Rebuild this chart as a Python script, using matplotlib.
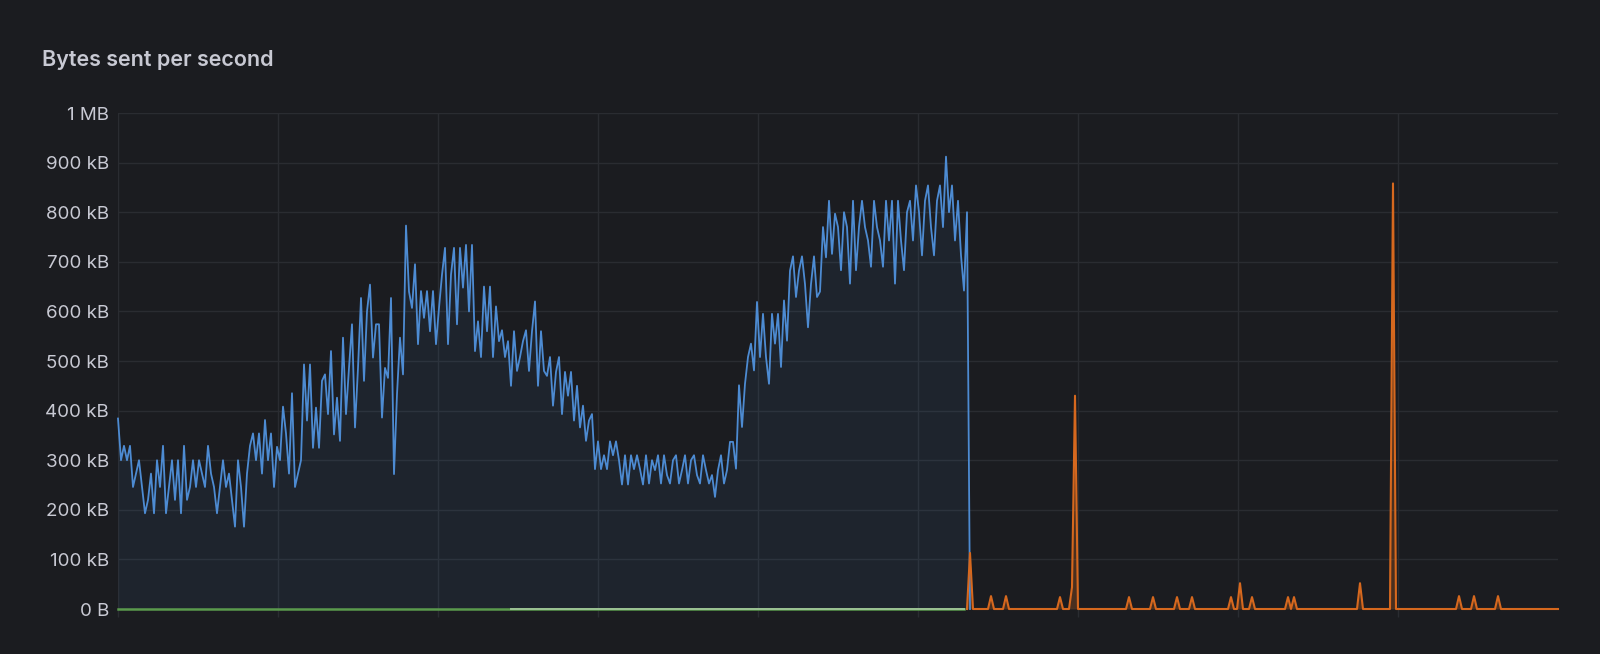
import numpy as np
import matplotlib
matplotlib.use("Agg")
import matplotlib.pyplot as plt

# ---------------- data (kB/s) ----------------
# blue series: one sample per step, steps 0..284
sent_blue = [
    384, 300, 329, 300, 329, 246, 273, 300, 246, 193,
    220, 273, 193, 300, 246, 329, 193, 246, 300, 220,
    300, 193, 329, 220, 246, 300, 246, 300, 273, 246,
    329, 273, 246, 193, 246, 300, 246, 273, 220, 166,
    300, 246, 166, 273, 329, 354, 300, 354, 273, 381,
    300, 354, 246, 327, 300, 408, 354, 273, 435, 246,
    273, 300, 493, 380, 493, 325, 406, 325, 460, 473,
    393, 520, 352, 426, 339, 547, 393, 486, 574, 366,
    486, 627, 460, 600, 654, 507, 574, 574, 386, 486,
    466, 627, 272, 433, 547, 473, 773, 640, 607, 695,
    534, 641, 587, 641, 560, 641, 534, 607, 674, 728,
    534, 674, 728, 574, 728, 648, 734, 600, 734, 520,
    580, 508, 650, 560, 650, 508, 610, 540, 562, 508,
    540, 450, 560, 480, 508, 540, 562, 480, 560, 620,
    450, 560, 480, 470, 508, 410, 478, 508, 393, 478,
    430, 478, 380, 450, 366, 410, 339, 380, 393, 282,
    338, 282, 310, 282, 338, 310, 338, 300, 251, 310,
    251, 310, 282, 310, 282, 251, 310, 253, 300, 280,
    310, 253, 310, 270, 253, 300, 310, 253, 280, 310,
    253, 300, 310, 270, 253, 310, 280, 253, 270, 226,
    280, 310, 253, 280, 337, 337, 283, 451, 367, 454,
    508, 535, 481, 619, 508, 595, 508, 454, 595, 535,
    595, 488, 622, 541, 682, 711, 629, 682, 711, 655,
    568, 655, 711, 629, 640, 770, 709, 823, 716, 797,
    770, 683, 800, 770, 656, 823, 683, 770, 823, 770,
    743, 690, 823, 770, 743, 690, 823, 743, 823, 656,
    823, 743, 683, 800, 823, 743, 854, 800, 713, 823,
    854, 770, 713, 823, 854, 770, 912, 800, 854, 743,
    823, 713, 642, 800, 0,
]

# orange series: runs from step 283 to step 480, zero except for these spikes
orange_start, orange_end = 283, 480
orange_spike_steps = [284, 291, 296, 314, 318, 319, 337, 345, 353, 358,
                      371, 374, 378, 390, 392, 414, 425, 447, 452, 460]
orange_spike_vals = [113, 26, 26, 24, 44, 430, 24, 24, 24, 24,
                     24, 52, 24, 24, 24, 52, 858, 26, 26, 26]

# green series (zero) from step 0 to 282, and a second zero series from 131 to 282
green_end = 282
pale_start, pale_end = 131, 282

y_ticks = [0, 100, 200, 300, 400, 500, 600, 700, 800, 900, 1000]
y_tick_labels = ["0 B", "100 kB", "200 kB", "300 kB", "400 kB", "500 kB",
                 "600 kB", "700 kB", "800 kB", "900 kB", "1 MB"]

# ---------------- build series ----------------
blue_x = np.arange(len(sent_blue))
blue_y = np.array(sent_blue, dtype=float)

orange_x = np.arange(orange_start, orange_end + 1)
orange_y = np.zeros(len(orange_x))
for s, v in zip(orange_spike_steps, orange_spike_vals):
    orange_y[s - orange_start] = v

green_x = np.arange(0, green_end + 1)
green_y = np.zeros(len(green_x))
pale_x = np.arange(pale_start, pale_end + 1)
pale_y = np.zeros(len(pale_x))

# ---------------- style ----------------
BG = "#1b1c20"
GRID = "#2a2c31"
TXT = "#c8c9d3"
BLUE = "#4d8bd2"
ORANGE = "#d6681e"
GREEN = "#5a9a4c"
PALE = "#9cc294"

plt.rcParams["font.family"] = ["Inter", "DejaVu Sans"]

fig = plt.figure(figsize=(16, 6.54), dpi=100, facecolor=BG)
ax = fig.add_axes([118 / 1600, 45 / 654, 1440 / 1600, 496 / 654])
ax.set_facecolor(BG)

ax.set_xlim(0, 480)
ax.set_ylim(0, 1000)

# grid
ax.set_yticks(y_ticks)
ax.set_yticklabels(y_tick_labels)
ax.set_xticks(np.arange(0, 480, 160 / 3))
ax.set_xticklabels([])
ax.grid(True, color=GRID, linewidth=1.0)
ax.set_axisbelow(True)
for sp in ax.spines.values():
    sp.set_visible(False)
ax.tick_params(axis="y", length=0, pad=6.5, labelsize=13.5, labelcolor=TXT)
ax.tick_params(axis="x", length=6, width=1.0, color=GRID)

# series
ax.fill_between(blue_x, blue_y, 0, color=BLUE, alpha=0.08, linewidth=0)
ax.plot(blue_x, blue_y, color=BLUE, linewidth=1.3, clip_on=False, zorder=3)
ax.plot(green_x, green_y, color=GREEN, linewidth=1.8, clip_on=False, zorder=3)
ax.plot(pale_x, pale_y, color=PALE, linewidth=1.4, clip_on=False, zorder=3)
ax.fill_between(orange_x, orange_y, 0, color=ORANGE, alpha=0.25, linewidth=0)
ax.plot(orange_x, orange_y, color=ORANGE, linewidth=1.5, clip_on=False, zorder=4)

fig.text(42 / 1600, 1 - 66 / 654, "Bytes sent per second", color=TXT,
         fontsize=15.5, fontweight="semibold", va="baseline", ha="left")

fig.savefig("out.png", dpi=100, facecolor=BG)
